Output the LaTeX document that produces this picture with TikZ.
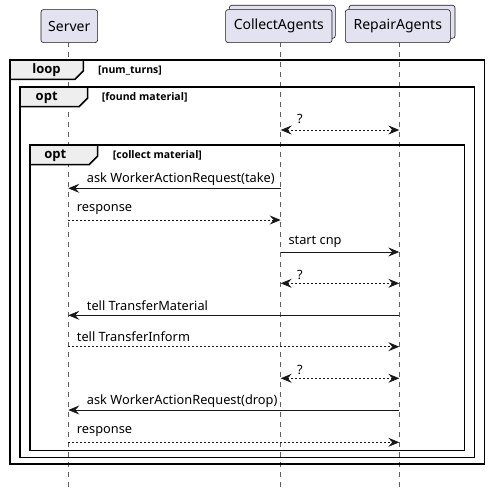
\documentclass[tikz,border=0pt]{standalone}
\usepackage{fontspec}
\setmainfont{Noto Sans}
\newfontfamily\boldfam{Open Sans}
\usetikzlibrary{arrows.meta}
\definecolor{partfill}{HTML}{E2E2F0}
\definecolor{tabfill}{HTML}{EEEEEE}
\definecolor{ink}{HTML}{181818}
\tikzset{
  part/.style={draw=ink, fill=partfill, line width=0.6pt, rounded corners=2.5pt, minimum height=33pt, inner xsep=6pt, font=\fontsize{14}{16}\selectfont, anchor=north west},
  lifeline/.style={draw=ink!70, line width=0.6pt, dash pattern=on 5pt off 5pt},
  frame/.style={draw=black, line width=1.5pt},
  tabbox/.style={draw=black, line width=1.5pt, fill=tabfill},
  tabtxt/.style={font=\boldfam\bfseries\fontsize{13}{15}\selectfont, inner sep=0pt},
  condtxt/.style={font=\boldfam\bfseries\fontsize{10.5}{12}\selectfont, inner sep=0pt, anchor=west},
  msg/.style={draw=ink, line width=0.8pt, -{Stealth[length=11pt,width=9pt,inset=4pt]}},
  rmsg/.style={draw=ink, line width=0.8pt, dash pattern=on 2pt off 2pt, -{Stealth[length=11pt,width=9pt,inset=4pt]}},
  bimsg/.style={draw=ink, line width=0.8pt, dash pattern=on 2pt off 2pt, {Stealth[length=11pt,width=9pt,inset=4pt]}-{Stealth[length=11pt,width=9pt,inset=4pt]}},
  mtxt/.style={font=\fontsize{12.8}{14}\selectfont, inner sep=0pt, anchor=west},
}
\begin{document}
\begin{tikzpicture}[x=1pt,y=-1pt]
\useasboundingbox (0,0) rectangle (489,487);
% participants
\node[part, minimum width=56.6pt] (srv) at (40.7,9.3) {Server};
\draw[draw=ink, fill=partfill, line width=0.6pt, rounded corners=2.5pt] (229.3,5.3) rectangle (335.3,38.3);
\node[part, minimum width=106.4pt] (ca) at (225.3,9.3) {CollectAgents};
\draw[draw=ink, fill=partfill, line width=0.6pt, rounded corners=2.5pt] (349,5.3) rectangle (455,38.3);
\node[part, minimum width=105pt] (ra) at (345,9.3) {RepairAgents};
% lifelines
\coordinate (sb) at (68.3,487);
\coordinate (cb) at (280.7,487);
\coordinate (rb) at (399.3,487);
\draw[lifeline] (68.3,42.3) -- (sb);
\draw[lifeline] (280.7,42.3) -- (cb);
\draw[lifeline] (399.3,42.3) -- (rb);
% frames
\draw[frame] (10,60) rectangle (484.7,464);
\draw[tabbox] (10,60) -- (83.3,60) -- (83.3,71) -- (75,79.3) -- (10,79.3) -- cycle;
\node[tabtxt] (loopt) at (46.5,70) {loop};
\node[condtxt] (loopc) at (98,70.5) {[num\_turns]};
\draw[frame] (20,87) rectangle (474.7,457.3);
\draw[tabbox] (20,87) -- (87.7,87) -- (87.7,98) -- (79.3,106.5) -- (20,106.5) -- cycle;
\node[tabtxt] (opt1t) at (46.7,97.5) {opt};
\node[condtxt] (opt1c) at (101.7,97.5) {[found material]};
\draw[frame] (30,145) rectangle (464.7,450.3);
\draw[tabbox] (30,145) -- (97.7,145) -- (97.7,156) -- (89.3,164.5) -- (30,164.5) -- cycle;
\node[tabtxt] (opt2t) at (55.3,155.5) {opt};
\node[condtxt] (opt2c) at (112.7,155.5) {[collect material]};
% message anchors
\coordinate (c1) at (280.7,130); \coordinate (r1) at (399.3,130);
\coordinate (c2) at (280.7,188.3); \coordinate (s2) at (68.3,188.3);
\coordinate (s3) at (68.3,220); \coordinate (c3) at (280.7,220);
\coordinate (c4) at (280.7,252); \coordinate (r4) at (399.3,252);
\coordinate (c5) at (280.7,283.3); \coordinate (r5) at (399.3,283.3);
\coordinate (r6) at (399.3,315.3); \coordinate (s6) at (68.3,315.3);
\coordinate (s7) at (68.3,346.7); \coordinate (r7) at (399.3,346.7);
\coordinate (c8) at (280.7,378.3); \coordinate (r8) at (399.3,378.3);
\coordinate (r9) at (399.3,410); \coordinate (s9) at (68.3,410);
\coordinate (s10) at (68.3,442.3); \coordinate (r10) at (399.3,442.3);
% messages
\draw[bimsg] (c1) -- (r1);
\node[mtxt] (m1) at (297,119) {?};
\draw[msg] (c2) -- (s2);
\node[mtxt] (m2) at (86.7,179.5) {ask WorkerActionRequest(take)};
\draw[rmsg] (s3) -- (c3);
\node[mtxt] (m3) at (76.7,210) {response};
\draw[msg] (c4) -- (r4);
\node[mtxt] (m4) at (288.3,242) {start cnp};
\draw[bimsg] (c5) -- (r5);
\node[mtxt] (m5) at (297,274.5) {?};
\draw[msg] (r6) -- (s6);
\node[mtxt] (m6) at (86.7,306) {tell TransferMaterial};
\draw[rmsg] (s7) -- (r7);
\node[mtxt] (m7) at (76.7,337) {tell TransferInform};
\draw[bimsg] (c8) -- (r8);
\node[mtxt] (m8) at (297,369.5) {?};
\draw[msg] (r9) -- (s9);
\node[mtxt] (m9) at (86.7,401.5) {ask WorkerActionRequest(drop)};
\draw[rmsg] (s10) -- (r10);
\node[mtxt] (m10) at (76.7,431.5) {response};
\end{tikzpicture}
\end{document}
